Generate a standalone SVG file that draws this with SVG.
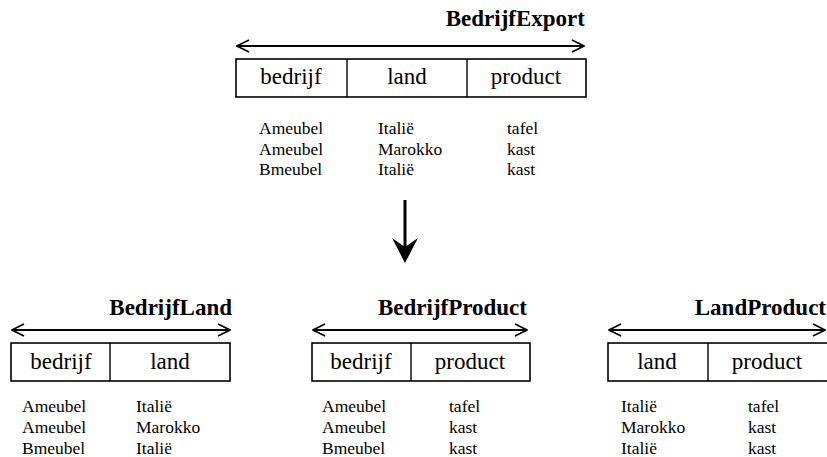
<svg xmlns="http://www.w3.org/2000/svg" width="827" height="457" viewBox="0 0 827 457" font-family="'Liberation Serif', 'DejaVu Serif', serif">
  <defs>
    <marker id="chev-end" viewBox="0 0 14 14" refX="13" refY="7" markerWidth="14" markerHeight="14" markerUnits="userSpaceOnUse" orient="auto">
      <path d="M1,1 L13,7 L1,13" fill="none" stroke="#000" stroke-width="1.6"/>
    </marker>
    <marker id="chev-start" viewBox="0 0 14 14" refX="1" refY="7" markerWidth="14" markerHeight="14" markerUnits="userSpaceOnUse" orient="auto">
      <path d="M13,1 L1,7 L13,13" fill="none" stroke="#000" stroke-width="1.6"/>
    </marker>
  </defs>
  <style>
    text { font-family: 'Liberation Serif', 'DejaVu Serif', serif; fill: #000; }
    .title { font-size: 23px; font-weight: bold; text-anchor: end; }
    .head { font-size: 23px; text-anchor: middle; }
    .cell { font-size: 17.5px; }
    .box { fill: #fff; stroke: #000; stroke-width: 1.6; }
    .div { stroke: #000; stroke-width: 1.4; }
    .span { stroke: #000; stroke-width: 2; fill: none; marker-start: url(#chev-start); marker-end: url(#chev-end); }
  </style>
  <rect width="827" height="457" fill="#fff"/>

  <!-- source relation -->
  <g id="bedrijfexport">
    <text class="title" x="585" y="26">BedrijfExport</text>
    <line class="span" x1="237" y1="46" x2="584" y2="46"/>
    <rect class="box" x="236" y="59" width="350" height="38"/>
    <line class="div" x1="347" y1="59" x2="347" y2="97" stroke="#444"/>
    <line class="div" x1="467" y1="59" x2="467" y2="97" stroke="#444"/>
    <text class="head" x="291" y="84">bedrijf</text>
    <text class="head" x="407" y="84">land</text>
    <text class="head" x="526" y="84">product</text>
    <text class="cell" x="259" y="134">Ameubel</text>
    <text class="cell" x="259" y="154.5">Ameubel</text>
    <text class="cell" x="259" y="175">Bmeubel</text>
    <text class="cell" x="378" y="134">Italië</text>
    <text class="cell" x="378" y="154.5">Marokko</text>
    <text class="cell" x="378" y="175">Italië</text>
    <text class="cell" x="507" y="134">tafel</text>
    <text class="cell" x="507" y="154.5">kast</text>
    <text class="cell" x="507" y="175">kast</text>
  </g>

  <!-- decomposition arrow -->
  <g id="connectors">
    <line x1="405" y1="200" x2="405" y2="250" stroke="#000" stroke-width="3"/>
    <path d="M405,263 L392,238 L405,247 L418,238 Z" fill="#000"/>
  </g>

  <g id="bedrijfland">
    <text class="title" x="232" y="315">BedrijfLand</text>
    <line class="span" x1="12" y1="330" x2="230" y2="330"/>
    <rect class="box" x="11" y="343" width="219" height="38" stroke-width="2"/>
    <line class="div" x1="110" y1="343" x2="110" y2="381" stroke-width="2"/>
    <text class="head" x="61" y="369">bedrijf</text>
    <text class="head" x="170" y="369">land</text>
    <text class="cell" x="22" y="412">Ameubel</text>
    <text class="cell" x="22" y="433">Ameubel</text>
    <text class="cell" x="22" y="454">Bmeubel</text>
    <text class="cell" x="136" y="412">Italië</text>
    <text class="cell" x="136" y="433">Marokko</text>
    <text class="cell" x="136" y="454">Italië</text>
  </g>

  <g id="bedrijfproduct">
    <text class="title" x="527" y="315">BedrijfProduct</text>
    <line class="span" x1="313" y1="330" x2="527" y2="330"/>
    <rect class="box" x="312" y="343" width="218" height="38" stroke-width="2"/>
    <line class="div" x1="411" y1="343" x2="411" y2="381" stroke-width="2"/>
    <text class="head" x="361" y="369">bedrijf</text>
    <text class="head" x="470" y="369">product</text>
    <text class="cell" x="322" y="412">Ameubel</text>
    <text class="cell" x="322" y="433">Ameubel</text>
    <text class="cell" x="322" y="454">Bmeubel</text>
    <text class="cell" x="449" y="412">tafel</text>
    <text class="cell" x="449" y="433">kast</text>
    <text class="cell" x="449" y="454">kast</text>
  </g>

  <g id="landproduct">
    <text class="title" x="826" y="315">LandProduct</text>
    <line class="span" x1="609" y1="330" x2="825" y2="330"/>
    <rect class="box" x="608" y="343" width="224" height="38" stroke-width="2"/>
    <line class="div" x1="708" y1="343" x2="708" y2="381" stroke-width="2"/>
    <text class="head" x="657" y="369">land</text>
    <text class="head" x="767" y="369">product</text>
    <text class="cell" x="621" y="412">Italië</text>
    <text class="cell" x="621" y="433">Marokko</text>
    <text class="cell" x="621" y="454">Italië</text>
    <text class="cell" x="748" y="412">tafel</text>
    <text class="cell" x="748" y="433">kast</text>
    <text class="cell" x="748" y="454">kast</text>
  </g>
</svg>
